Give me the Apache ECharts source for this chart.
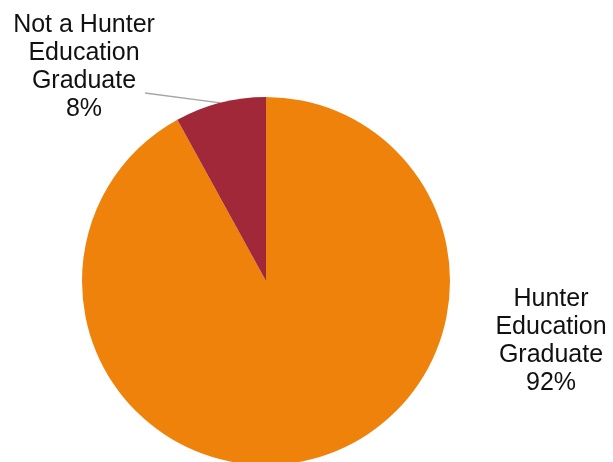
<!DOCTYPE html>
<html>
<head>
<meta charset="utf-8">
<script src="https://cdn.jsdelivr.net/npm/echarts@6/dist/echarts.min.js"></script>
<style>
  html, body { margin: 0; padding: 0; background: #fff; }
  #main { width: 613px; height: 462px; }
</style>
</head>
<body>
<div id="main"></div>
<script>
// 数据
const categories = ['Hunter\nEducation\nGraduate', 'Not a Hunter\nEducation\nGraduate']
const values = [92, 8]
const colors = ['#EF820B', '#A02838']

const chartDom = document.getElementById('main')
const myChart = echarts.init(chartDom, null, { renderer: 'canvas' })

// 标签位置
const labelSpots = [
  { x: 551, y: 341 },
  { x: 84, y: 67, lineEnd: [145, 93] }
]

const option = {
  animation: false,
  series: [
    {
      type: 'pie',
      center: [266, 281],
      radius: 184,
      startAngle: 90,
      clockwise: true,
      data: categories.map((name, i) => ({
        name: name,
        value: values[i],
        itemStyle: { color: colors[i] },
        labelLine: { show: i === 1 }
      })),
      itemStyle: { borderWidth: 0 },
      label: {
        show: true,
        position: 'outside',
        formatter: p => p.name + '\n' + p.value + '%',
        fontFamily: 'Liberation Sans, Arial, sans-serif',
        fontSize: 25,
        lineHeight: 28,
        color: '#111',
        align: 'center'
      },
      labelLine: {
        show: true,
        length: 10,
        length2: 10,
        lineStyle: { color: '#A6A6A6', width: 1.3 }
      },
      labelLayout: params => {
        const s = labelSpots[params.dataIndex]
        const out = {
          x: s.x,
          y: s.y,
          align: 'center',
          verticalAlign: 'middle'
        }
        if (s.lineEnd && params.labelLinePoints) {
          out.labelLinePoints = [params.labelLinePoints[0], s.lineEnd]
        }
        return out
      }
    }
  ]
}

option && myChart.setOption(option)
</script>
</body>
</html>
